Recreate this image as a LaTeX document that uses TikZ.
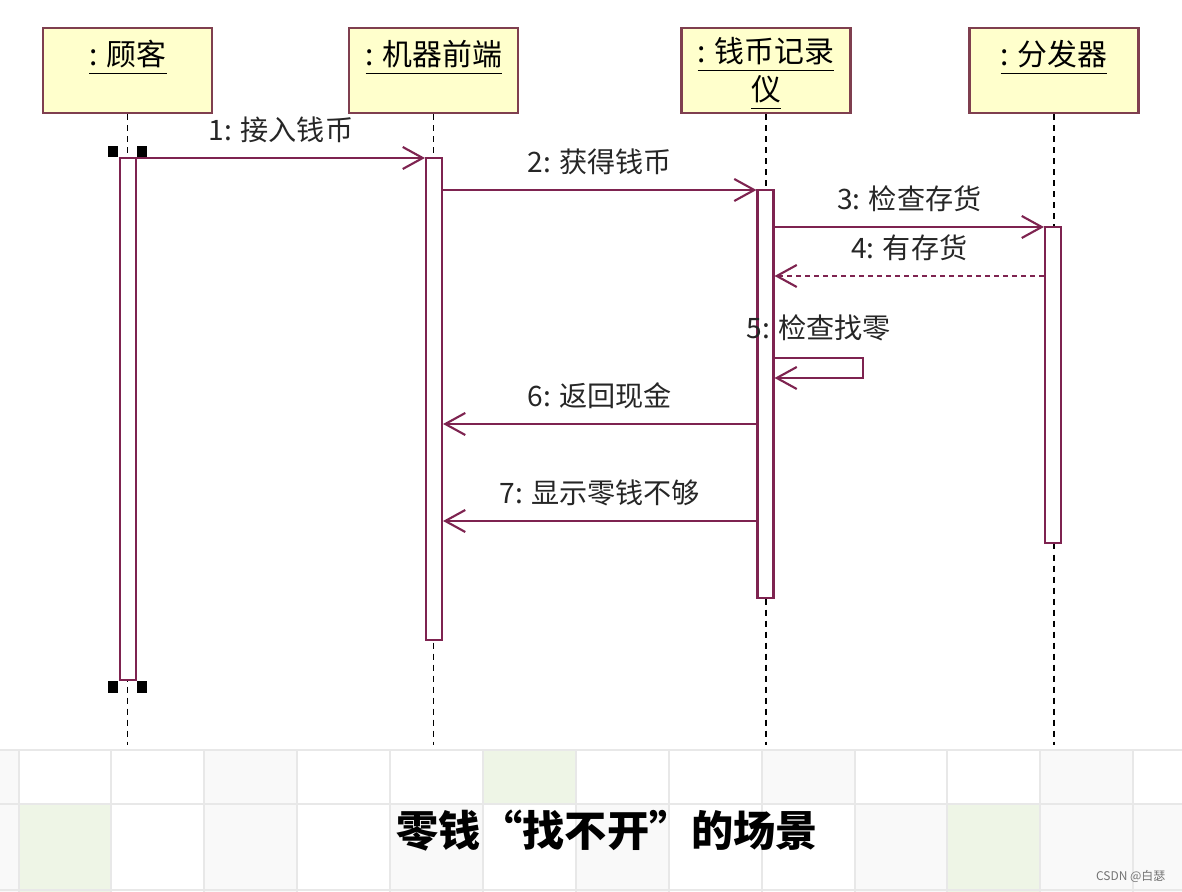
\documentclass[tikz,border=0pt]{standalone}
\usepackage{fontspec}
\setmainfont{Noto Sans CJK SC}
\usetikzlibrary{arrows.meta,positioning,calc}
\definecolor{rosewine}{HTML}{7E2350}
\definecolor{boxedge}{HTML}{7F3F4F}
\definecolor{boxfill}{HTML}{FFFFCC}
\definecolor{gridline}{HTML}{E8E8E8}
\definecolor{cellgray}{HTML}{F9F9F9}
\definecolor{cellgreen}{HTML}{EEF5E6}

\tikzset{
  objbox/.style={draw=boxedge,fill=boxfill,line width=0.7pt,
                 minimum width=1.69cm,minimum height=0.85cm,inner sep=0pt},
  objname/.style={font=\fontsize{8.5}{9.8}\selectfont,inner sep=0pt,align=center},
  actbar/.style={draw=rosewine,fill=white,line width=0.6pt,
                 minimum width=0.16cm,inner sep=0pt},
  lifeline/.style={black,line width=0.5pt,dash pattern=on 0.06cm off 0.05cm},
  msg/.style={rosewine,line width=0.6pt,-{Straight Barb[length=0.2cm,width=0.22cm]}},
  reply/.style={msg,dash pattern=on 0.05cm off 0.04cm},
  msglabel/.style={font=\fontsize{8}{9.5}\selectfont,text=black!85,inner sep=0pt},
  endmark/.style={fill=black,minimum width=0.1cm,minimum height=0.11cm,inner sep=0pt}
}

\begin{document}
\begin{tikzpicture}[x=0.01cm,y=-0.01cm]
  \useasboundingbox (0,0) rectangle (1182,892);

  % background grid at the bottom
  \foreach \cx/\cw/\cy/\ch/\cc in {
      0/19/750/54/cellgray, 204/93/750/54/cellgray, 483/93/750/54/cellgreen,
      762/93/750/54/cellgray, 1040/93/750/54/cellgray,
      0/19/804/88/cellgray, 19/92/804/88/cellgreen, 204/93/804/88/cellgray,
      390/93/804/88/cellgray, 576/93/804/88/cellgray, 855/92/804/88/cellgray,
      947/93/804/88/cellgreen, 1040/93/804/88/cellgray, 1133/49/804/88/cellgray}
    \fill[\cc] (\cx,\cy) rectangle ++(\cw,\ch);
  \foreach \gx in {19,111,204,297,390,483,576,669,762,855,947,1040,1133}
    \draw[gridline,line width=0.5pt] (\gx,750) -- (\gx,892);
  \draw[gridline,line width=0.5pt] (0,750) -- (1182,750) (0,804) -- (1182,804)
    (0,890) -- (1182,890);

  % objects
  \node[objbox] (cust) at (127.5,70.5) {};
  \node[objbox] (mach) at (433.5,70.5) {};
  \node[objbox] (rec) at (766,70.5) {};
  \node[objbox] (disp) at (1054,70.5) {};
  \node[objname,anchor=base] (custname) at (128,66) {\underline{: 顾客}};
  \node[objname,anchor=base] (machname) at (434,66) {\underline{: 机器前端}};
  \node[objname,anchor=base] (recname) at (766,101) {\underline{: 钱币记录}\\\underline{仪}};
  \node[objname,anchor=base] (dispname) at (1054,66) {\underline{: 分发器}};

  % lifelines
  \coordinate (lifeend) at (0,745);
  \foreach \obj in {cust,mach,rec,disp}
    \draw[lifeline] (\obj.south) -- (\obj.south |- lifeend);

  % activations
  \node[actbar,minimum height=5.22cm] (custbar) at (128,419) {};
  \node[actbar,minimum height=4.82cm] (machbar) at (434,399) {};
  \node[actbar,minimum height=4.08cm] (recbar) at (765.5,394) {};
  \node[actbar,minimum height=3.16cm] (dispbar) at (1053,385) {};
  \node[endmark] (starta) at (113,152) {};
  \node[endmark] (startb) at (142,152) {};
  \node[endmark] (enda) at (113,687) {};
  \node[endmark] (endb) at (142,687) {};

  % messages
  \coordinate (y1) at (0,158);
  \coordinate (y2) at (0,190);
  \coordinate (y3) at (0,227);
  \coordinate (y4) at (0,276);
  \coordinate (y5) at (0,358);
  \coordinate (y5b) at (0,378);
  \coordinate (y6) at (0,424);
  \coordinate (y7) at (0,521);
  \draw[msg] (custbar.east |- y1) -- node[msglabel,above=0.14cm] {1: 接入钱币} (machbar.west |- y1);
  \draw[msg] (machbar.east |- y2) -- node[msglabel,above=0.14cm] {2: 获得钱币} (recbar.west |- y2);
  \draw[msg] (recbar.east |- y3) -- node[msglabel,above=0.14cm] {3: 检查存货} (dispbar.west |- y3);
  \draw[reply] (dispbar.west |- y4) -- node[msglabel,above=0.14cm] {4: 有存货} (recbar.east |- y4);
  \draw[msg] (recbar.east |- y5) -- ++(88,0) node[msglabel,midway,above=0.16cm] {5: 检查找零}
    -- ++(0,20) -- (recbar.east |- y5b);
  \draw[msg] (recbar.west |- y6) -- node[msglabel,above=0.14cm] {6: 返回现金} (machbar.east |- y6);
  \draw[msg] (recbar.west |- y7) -- node[msglabel,above=0.14cm] {7: 显示零钱不够} (machbar.east |- y7);

  % caption
  \node[font=\fontsize{12}{14}\selectfont\bfseries] (title) at (607,831) {零钱“找不开”的场景};
  \node[font=\fontsize{3.4}{4}\selectfont,text=black!55,anchor=east,inner sep=0pt] (mark) at (1166,876) {CSDN @白瑟};
\end{tikzpicture}
\end{document}
